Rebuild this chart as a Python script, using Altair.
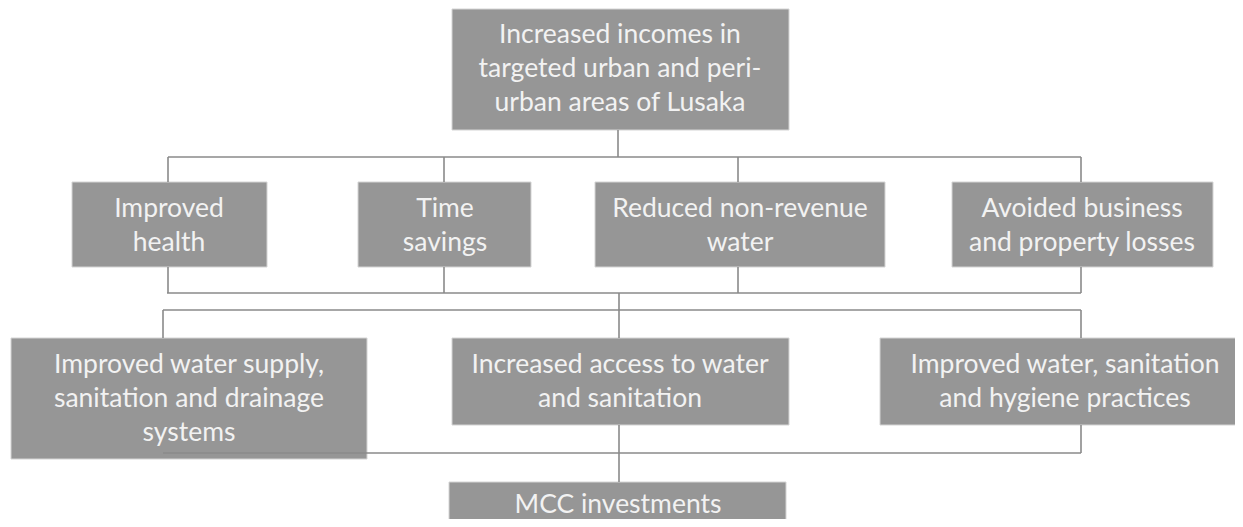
import altair as alt
import pandas as pd

# Boxes of the results framework (diagram pixel coordinates)
box_names = ["top", "health", "time", "nrw", "losses", "supply", "access", "hygiene", "mcc"]
box_x1 = [452, 72, 358, 595, 952, 11, 452, 880, 449]
box_x2 = [789, 267, 531, 885, 1213, 367, 789, 1243, 786]
box_y1 = [9, 182, 182, 182, 182, 338, 338, 338, 482]
box_y2 = [130, 267, 267, 267, 267, 459, 425, 425, 527]

labels = [
    "Increased incomes in\ntargeted urban and peri-\nurban areas of Lusaka",
    "Improved\nhealth",
    "Time\nsavings",
    "Reduced non-revenue\nwater",
    "Avoided business\nand property losses",
    "Improved water supply,\nsanitation and drainage\nsystems",
    "Increased access to water\nand sanitation",
    "Improved water, sanitation\nand hygiene practices",
    "MCC investments",
]
# centre of each text block
label_x = [620, 169, 445, 740, 1082, 189, 620, 1065, 618]
label_y = [69, 226, 226, 226, 226, 399, 382, 382, 505]

# Connector segments
seg_x1 = [618, 168, 168, 444, 738, 1081, 168, 444, 738, 1081, 167, 619, 163, 163, 619, 1081, 619, 1081, 163, 619]
seg_x2 = [618, 1081, 168, 444, 738, 1081, 168, 444, 738, 1081, 1081, 619, 1081, 163, 619, 1081, 619, 1081, 1081, 619]
seg_y1 = [130, 157, 157, 157, 157, 157, 267, 267, 267, 267, 293, 293, 310, 310, 310, 310, 425, 425, 453, 453]
seg_y2 = [157, 157, 182, 182, 182, 182, 293, 293, 293, 293, 293, 310, 310, 338, 338, 338, 453, 453, 453, 482]

LH = 34
boxes = pd.DataFrame({"name": box_names, "x1": box_x1, "x2": box_x2, "y1": box_y1, "y2": box_y2})
texts = pd.DataFrame({"label": labels, "x": label_x, "yc": label_y})
texts["y"] = texts["yc"] - (texts["label"].str.count("\n") * LH / 2)
segs = pd.DataFrame({"x1": seg_x1, "x2": seg_x2, "y1": seg_y1, "y2": seg_y2})

W, H = 1227, 511
xs = alt.Scale(domain=[8, 8 + W], nice=False, zero=False)
ys = alt.Scale(domain=[8, 8 + H], nice=False, zero=False, reverse=True)

rects = alt.Chart(boxes).mark_rect(
    fill="#969696", stroke="#d4d4d4", strokeWidth=1
).encode(
    x=alt.X("x1:Q", scale=xs, axis=None),
    x2="x2:Q",
    y=alt.Y("y1:Q", scale=ys, axis=None),
    y2="y2:Q",
)

rules = alt.Chart(segs).mark_rule(color="#8a8a8a", strokeWidth=1.6).encode(
    x=alt.X("x1:Q", scale=xs, axis=None),
    x2="x2:Q",
    y=alt.Y("y1:Q", scale=ys, axis=None),
    y2="y2:Q",
)

text = alt.Chart(texts).mark_text(
    font="Lato", fontSize=26.5, color="#f2f2f2", align="center",
    baseline="middle", lineBreak="\n", lineHeight=LH,
).encode(
    x=alt.X("x:Q", scale=xs, axis=None),
    y=alt.Y("y:Q", scale=ys, axis=None),
    text="label:N",
)

chart = alt.layer(rects, rules, text).properties(
    width=W, height=H,
    autosize=alt.AutoSizeParams(type="none"),
    padding=0,
).configure_view(stroke=None)

chart.save("out.html", embed_options={"renderer": "svg", "actions": False})
